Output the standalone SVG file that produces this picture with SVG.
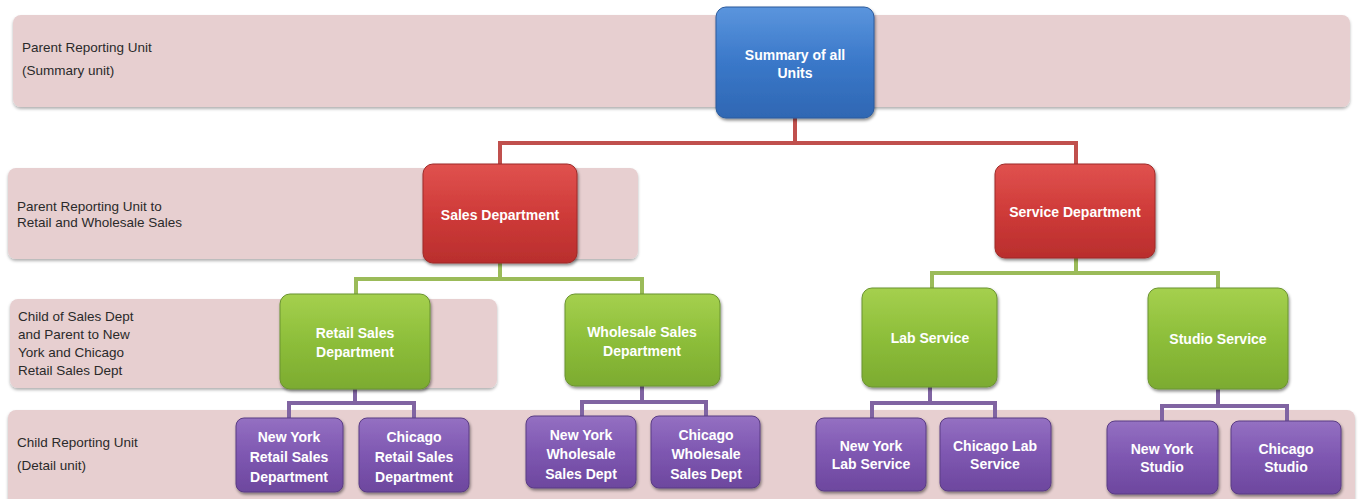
<svg xmlns="http://www.w3.org/2000/svg" width="1362" height="499" viewBox="0 0 1362 499">
<defs>
<linearGradient id="gBlue" x1="0" y1="0" x2="0" y2="1"><stop offset="0" stop-color="#5b95dd"/><stop offset="0.5" stop-color="#3a78c9"/><stop offset="1" stop-color="#2f67b3"/></linearGradient>
<linearGradient id="gRed" x1="0" y1="0" x2="0" y2="1"><stop offset="0" stop-color="#e0524f"/><stop offset="0.5" stop-color="#cf3b39"/><stop offset="1" stop-color="#b92e2d"/></linearGradient>
<linearGradient id="gGreen" x1="0" y1="0" x2="0" y2="1"><stop offset="0" stop-color="#a5d04e"/><stop offset="0.5" stop-color="#8dbe3a"/><stop offset="1" stop-color="#7cab30"/></linearGradient>
<linearGradient id="gPurple" x1="0" y1="0" x2="0" y2="1"><stop offset="0" stop-color="#9470c2"/><stop offset="0.5" stop-color="#7e57b1"/><stop offset="1" stop-color="#6d479e"/></linearGradient>
<filter id="sh" x="-10%" y="-10%" width="125%" height="130%"><feDropShadow dx="1" dy="2" stdDeviation="1.8" flood-color="#000" flood-opacity="0.45"/></filter>
<filter id="shb" x="-5%" y="-10%" width="110%" height="130%"><feDropShadow dx="0" dy="2" stdDeviation="1.5" flood-color="#000" flood-opacity="0.3"/></filter>
</defs>
<style>
.band{fill:#e7cfd0;filter:url(#shb)}
.bl{font-family:"Liberation Sans",Arial,sans-serif;font-size:13.5px;fill:#2a2a2a}
.nt{font-family:"Liberation Sans",Arial,sans-serif;font-size:14px;font-weight:bold;fill:#ffffff;text-anchor:middle}
.blue{fill:url(#gBlue);stroke:#2c5b9c;stroke-width:1;filter:url(#sh)}
.red{fill:url(#gRed);stroke:#9e2a28;stroke-width:1;filter:url(#sh)}
.green{fill:url(#gGreen);stroke:#6b9430;stroke-width:1;filter:url(#sh)}
.purple{fill:url(#gPurple);stroke:#5a3c84;stroke-width:1;filter:url(#sh)}
.cr{fill:none;stroke:#c0504d;stroke-width:4}
.cg{fill:none;stroke:#9bbb59;stroke-width:4}
.cp{fill:none;stroke:#8064a2;stroke-width:4}
</style>
<rect width="1362" height="499" fill="#ffffff"/>
<g id="bands">
<rect class="band" x="13" y="15" width="1337" height="92" rx="8"/>
<rect class="band" x="8" y="168" width="630" height="91" rx="8"/>
<rect class="band" x="10" y="299" width="487" height="89" rx="8"/>
<rect class="band" x="8" y="410" width="1347" height="100" rx="8"/>
<text class="bl" x="22" y="52">Parent Reporting Unit</text>
<text class="bl" x="22" y="75">(Summary unit)</text>
<text class="bl" x="17" y="211">Parent Reporting Unit to</text>
<text class="bl" x="17" y="227">Retail and Wholesale Sales</text>
<text class="bl" x="18" y="321">Child of Sales Dept</text>
<text class="bl" x="18" y="339">and Parent to New</text>
<text class="bl" x="18" y="357">York and Chicago</text>
<text class="bl" x="18" y="375">Retail Sales Dept</text>
<text class="bl" x="17" y="447">Child Reporting Unit</text>
<text class="bl" x="17" y="470">(Detail unit)</text>
</g>
<g id="connectors">
<path class="cr" d="M795 118 V143 M500 143 H1076 M500 141 V164 M1076 141 V164"/>
<path class="cg" d="M500 263 V279 M356 279 H642 M356 277 V294 M642 277 V294"/>
<path class="cg" d="M1076 258 V273 M932 273 H1218 M932 271 V288 M1218 271 V288"/>
<path class="cp" d="M355 389 V403 M289 403 H414 M289 401 V418 M414 401 V418"/>
<path class="cp" d="M642 386 V402 M582 402 H706 M582 400 V416 M706 400 V416"/>
<path class="cp" d="M930 387 V403 M872 403 H995 M872 401 V418 M995 401 V418"/>
<path class="cp" d="M1218 389 V406 M1162 406 H1287 M1162 404 V421 M1287 404 V421"/>
</g>
<g id="n-summary"><rect class="blue" x="716" y="7" width="158" height="111" rx="10"/><text class="nt" x="795" y="60">Summary of all</text><text class="nt" x="795" y="78">Units</text></g>
<g id="n-sales"><rect class="red" x="423" y="164" width="154" height="99" rx="10"/><text class="nt" x="500" y="220">Sales Department</text></g>
<g id="n-service"><rect class="red" x="995" y="164" width="160" height="94" rx="10"/><text class="nt" x="1075" y="217">Service Department</text></g>
<g id="n-retail"><rect class="green" x="280" y="294" width="150" height="95" rx="10"/><text class="nt" x="355" y="338">Retail Sales</text><text class="nt" x="355" y="357">Department</text></g>
<g id="n-wholesale"><rect class="green" x="565" y="294" width="155" height="92" rx="10"/><text class="nt" x="642" y="337">Wholesale Sales</text><text class="nt" x="642" y="356">Department</text></g>
<g id="n-lab"><rect class="green" x="862" y="288" width="135" height="99" rx="10"/><text class="nt" x="930" y="343">Lab Service</text></g>
<g id="n-studio"><rect class="green" x="1148" y="288" width="140" height="101" rx="10"/><text class="nt" x="1218" y="344">Studio Service</text></g>
<g id="n-ny-retail"><rect class="purple" x="236" y="418" width="107" height="74" rx="8"/><text class="nt" x="289" y="442">New York</text><text class="nt" x="289" y="462">Retail Sales</text><text class="nt" x="289" y="482">Department</text></g>
<g id="n-chi-retail"><rect class="purple" x="359" y="418" width="110" height="74" rx="8"/><text class="nt" x="414" y="442">Chicago</text><text class="nt" x="414" y="462">Retail Sales</text><text class="nt" x="414" y="482">Department</text></g>
<g id="n-ny-wholesale"><rect class="purple" x="526" y="416" width="110" height="72" rx="8"/><text class="nt" x="581" y="440">New York</text><text class="nt" x="581" y="459">Wholesale</text><text class="nt" x="581" y="479">Sales Dept</text></g>
<g id="n-chi-wholesale"><rect class="purple" x="651" y="416" width="109" height="72" rx="8"/><text class="nt" x="706" y="440">Chicago</text><text class="nt" x="706" y="459">Wholesale</text><text class="nt" x="706" y="479">Sales Dept</text></g>
<g id="n-ny-lab"><rect class="purple" x="816" y="418" width="110" height="73" rx="8"/><text class="nt" x="871" y="451">New York</text><text class="nt" x="871" y="469">Lab Service</text></g>
<g id="n-chi-lab"><rect class="purple" x="940" y="418" width="111" height="73" rx="8"/><text class="nt" x="995" y="451">Chicago Lab</text><text class="nt" x="995" y="469">Service</text></g>
<g id="n-ny-studio"><rect class="purple" x="1107" y="421" width="111" height="73" rx="8"/><text class="nt" x="1162" y="454">New York</text><text class="nt" x="1162" y="472">Studio</text></g>
<g id="n-chi-studio"><rect class="purple" x="1231" y="421" width="110" height="73" rx="8"/><text class="nt" x="1286" y="454">Chicago</text><text class="nt" x="1286" y="472">Studio</text></g>
</svg>
